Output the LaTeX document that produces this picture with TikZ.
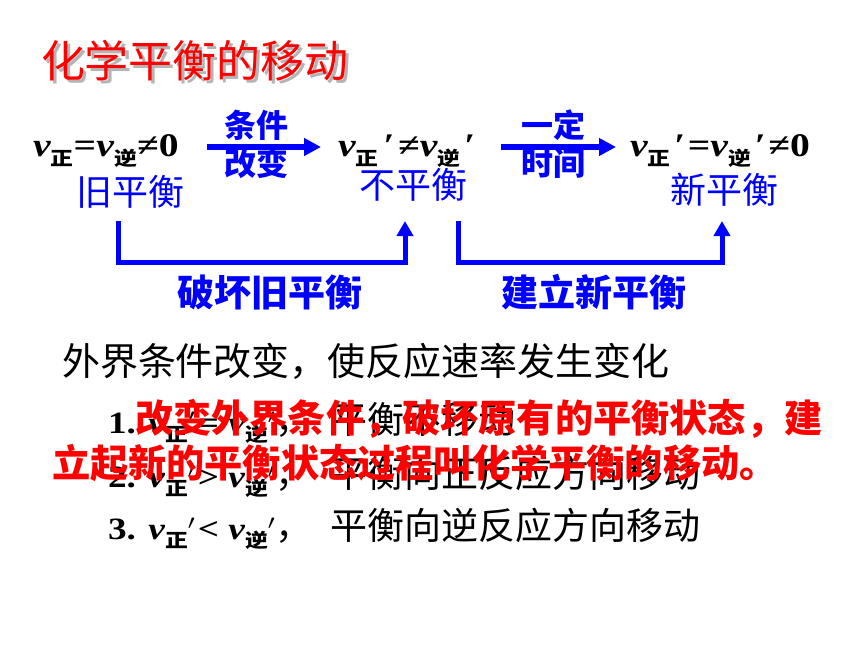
\documentclass[tikz,border=0pt]{standalone}
\usepackage{fontspec}
\usepackage{graphicx}
\setmainfont{Liberation Serif}
\newfontfamily\cjk{Noto Sans CJK SC}
\usetikzlibrary{arrows.meta}
\definecolor{myblue}{RGB}{0,0,255}
\definecolor{myred}{RGB}{255,0,0}
\definecolor{shadowgray}{RGB}{180,180,180}
\newcommand\vb[1]{\textit{v}\raisebox{-0.28em}{\cjk\bfseries\fontsize{19}{19}\selectfont #1}}
\newcommand\vr[1]{\textit{v}\raisebox{-0.28em}{\cjk\bfseries\fontsize{19}{19}\selectfont #1}}
\newcommand\wide[1]{\scalebox{1.2}[1]{#1}}
\tikzset{
  txt/.style={inner sep=0pt, outer sep=0pt},
  expr/.style={txt, anchor=base west, font=\fontsize{33}{33}\selectfont\bfseries},
  state/.style={txt, text=myblue, font=\cjk\fontsize{36}{36}\selectfont},
  arrlabel/.style={txt, text=myblue, font=\cjk\bfseries\fontsize{32}{32}\selectfont},
  phase/.style={txt, text=myblue, font=\cjk\bfseries\fontsize{37}{37}\selectfont},
  harrow/.style={myblue, line width=5.5pt, -{Triangle[length=17pt,width=17pt]}},
  bracket/.style={myblue, line width=5pt, -{Triangle[length=15pt,width=16pt]}},
  body/.style={txt, anchor=west, font=\cjk\fontsize{38}{38}\selectfont},
  item/.style={txt, anchor=base west, font=\fontsize{31}{31}\selectfont\bfseries},
  itemcjk/.style={font=\cjk\fontsize{37}{37}\selectfont\mdseries},
  redtxt/.style={txt, anchor=west, text=myred, font=\cjk\bfseries\fontsize{38.2}{38.2}\selectfont}
}
\newcommand\cjkpart[1]{{\cjk\fontsize{37}{37}\selectfont\mdseries ，\hspace{18pt}#1}}
\begin{document}
\begin{tikzpicture}[x=1pt,y=-1pt]
\useasboundingbox (0,0) rectangle (860,645);
% title
\node[txt, text=shadowgray, font=\cjk\fontsize{44}{44}\selectfont] (titleshadow) at (198,64) {化学平衡的移动};
\node[txt, text=myred, font=\cjk\fontsize{44}{44}\selectfont] (title) at (195,61) {化学平衡的移动};
% row of states
\node[expr] (e1) at (33,156) {\wide{\vb{正}=\vb{逆}≠0}};
\node[expr] (e2) at (338,156) {\wide{\vb{正}\hspace{4pt}′\hspace{3pt}≠\vb{逆}\hspace{3pt}′}};
\node[expr] (e3) at (630,156) {\wide{\vb{正}\hspace{3pt}′\hspace{2pt}=\vb{逆}\hspace{3pt}′\hspace{2pt}≠0}};
\node[state] (s1) at (130,192) {旧平衡};
\node[state] (s2) at (413,185) {不平衡};
\node[state] (s3) at (724,190) {新平衡};
% horizontal arrows
\coordinate (a1s) at (207,147);
\coordinate (a1e) at (321,147);
\coordinate (a2s) at (501,147);
\coordinate (a2e) at (616,147);
\draw[harrow] (a1s) -- (a1e);
\draw[harrow] (a2s) -- (a2e);
\node[arrlabel] (l1a) at (256,125) {条件};
\node[arrlabel] (l1b) at (256,163) {改变};
\node[arrlabel] (l2a) at (553,125) {一定};
\node[arrlabel] (l2b) at (553,163) {时间};
% brackets
\coordinate (b1s) at (118,221);
\coordinate (b1e) at (405,221);
\coordinate (b2s) at (458,221);
\coordinate (b2e) at (722,221);
\draw[bracket] (b1s) -- (118,262) -- (405,262) -- (b1e);
\draw[bracket] (b2s) -- (458,262) -- (722,262) -- (b2e);
\node[phase] (p1) at (270,292) {破坏旧平衡};
\node[phase] (p2) at (594,292) {建立新平衡};
% body text
\node[body] (intro) at (62,361) {外界条件改变，使反应速率发生变化};
\node[item] (i1) at (108,433) {\wide{1. \vr{正}$'$\hspace{2pt}= \vr{逆}$'$}\cjkpart{平衡不移动}};
\node[item] (i2) at (108,487) {\wide{2. \vr{正}$'$\hspace{2pt}> \vr{逆}$'$}\cjkpart{平衡向正反应方向移动}};
\node[item] (i3) at (108,539) {\wide{3. \vr{正}$'$\hspace{2pt}< \vr{逆}$'$}\cjkpart{平衡向逆反应方向移动}};
% red overlay
\node[redtxt] (r1) at (135,419) {改变外界条件，破坏原有的平衡状态，建};
\node[redtxt] (r2) at (52,463) {立起新的平衡状态过程叫化学平衡的移动。};
\end{tikzpicture}
\end{document}
